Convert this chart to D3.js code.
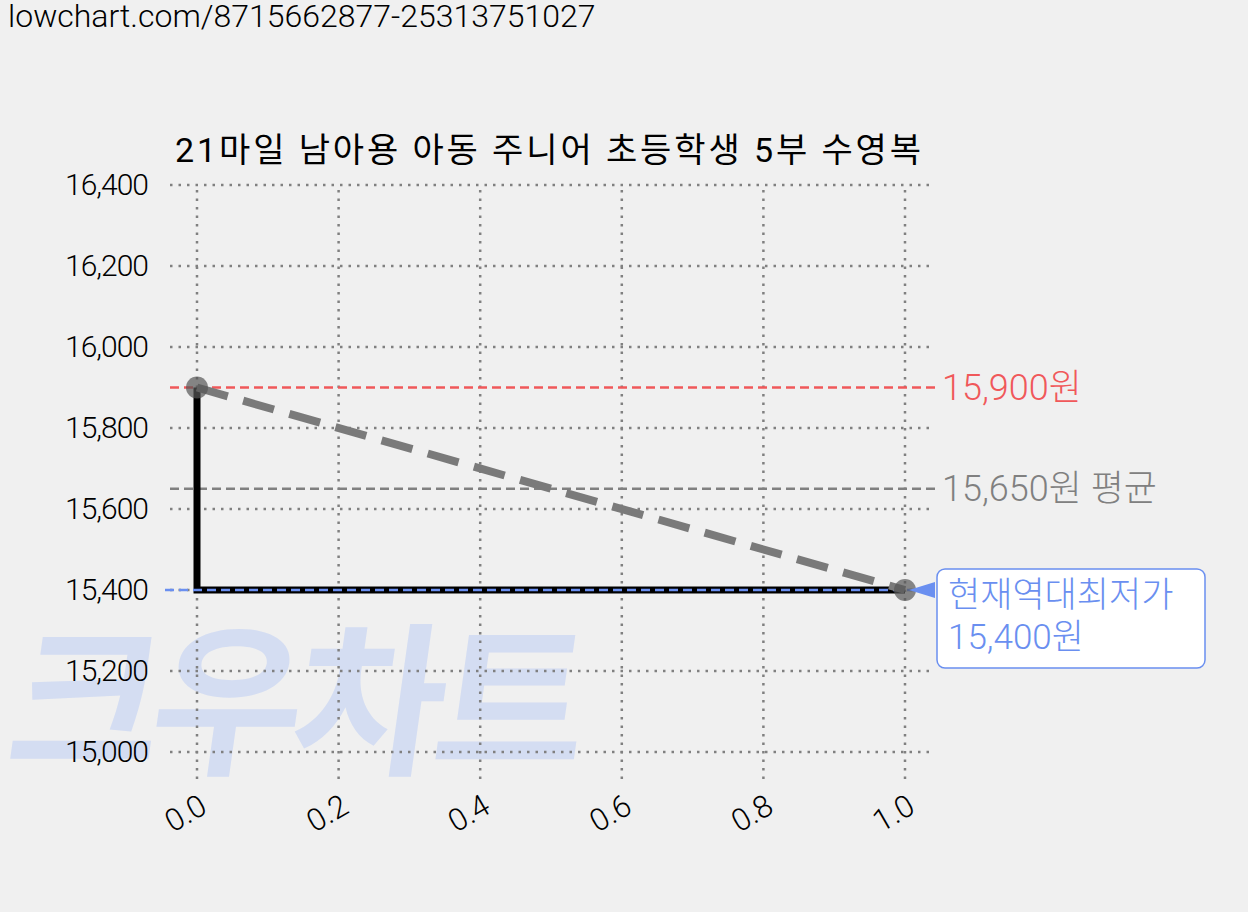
<!DOCTYPE html><html><head><meta charset="utf-8"><script src="https://cdn.jsdelivr.net/npm/d3@7"></script>
<style>body{margin:0;background:#f0f0f0;font-family:Roboto,"Noto Sans CJK KR",sans-serif}</style></head><body><svg id="c" width="1248" height="912"></svg>
<script>
const xVals=[0,1];
const prices=[15900,15400];
const yTicks=[15000,15200,15400,15600,15800,16000,16200,16400];
const xTicks=[0,0.2,0.4,0.6,0.8,1.0];
const maxPrice=15900, avgPrice=15650, minPrice=15400;
const title="21마일 남아용 아동 주니어 초등학생 5부 수영복";
const svg=d3.select("#c");
const x=d3.scaleLinear().domain([0,1]).range([197,905]);
const y=d3.scaleLinear().domain([15000,16400]).range([752,185]);
svg.append("text").attr("x",8).attr("y",27).attr("font-size",32).attr("font-weight",300).text("lowchart.com/8715662877-25313751027");
svg.append("text").attr("x",0).attr("y",762).attr("font-size",165).attr("font-weight",700).attr("fill","#d4ddf2")
 .attr("transform","translate(110,0) skewX(-8)").attr("font-family","Noto Sans CJK KR").attr("letter-spacing",-10).text("크우차트");
const g=svg.append("g");
xTicks.forEach(t=>g.append("line").attr("x1",x(t)).attr("x2",x(t)).attr("y1",190).attr("y2",785).attr("stroke","#808080").attr("stroke-width",2.5).attr("stroke-dasharray","2.5,6"));
yTicks.forEach(t=>g.append("line").attr("x1",170).attr("x2",935).attr("y1",y(t)).attr("y2",y(t)).attr("stroke","#808080").attr("stroke-width",2.5).attr("stroke-dasharray","2.5,6"));
yTicks.forEach(t=>svg.append("text").attr("x",148).attr("y",y(t)+10).attr("text-anchor","end").attr("font-size",30).attr("font-weight",300).attr("letter-spacing",-1).text(d3.format(",")(t)));
xTicks.forEach(t=>svg.append("text").attr("transform",`translate(${x(t)+12},${812}) rotate(-30)`).attr("text-anchor","end").attr("font-size",31).attr("font-weight",300).text(t.toFixed(1)));
svg.append("text").attr("x",548).attr("y",162).attr("text-anchor","middle").attr("font-size",34).attr("textLength",746).text(title);
const hl=(v,c,x0)=>svg.append("line").attr("x1",x0).attr("x2",935).attr("y1",y(v)).attr("y2",y(v)).attr("stroke",c).attr("stroke-width",2.5).attr("stroke-dasharray","9,5");
hl(maxPrice,"#f0585a",170);hl(avgPrice,"#808080",170);
svg.append("text").attr("x",942).attr("y",y(maxPrice)+12).attr("font-size",36).attr("font-weight",300).attr("fill","#f0585a").text("15,900원");
svg.append("text").attr("x",942).attr("y",y(avgPrice)+12).attr("font-size",36).attr("font-weight",300).attr("fill","#808080").text("15,650원 평균");
svg.append("path").attr("d",`M${x(0)},${y(prices[0])}V${y(prices[1])}H${x(1)}`).attr("fill","none").attr("stroke","#000").attr("stroke-width",7);
hl(minPrice,"#6a8ff0",165);
const line=d3.line().x((d,i)=>x(xVals[i])).y(d=>y(d));
svg.append("path").attr("d",line(prices)).attr("fill","none").attr("stroke","#7a7a7a").attr("stroke-width",8).attr("stroke-dasharray","32,16");
prices.forEach((p,i)=>svg.append("circle").attr("cx",x(xVals[i])).attr("cy",y(p)).attr("r",11).attr("fill","#555").attr("opacity",0.7));
svg.append("path").attr("d",`M${x(1)+4},${y(minPrice)}l26,-8v16z`).attr("fill","#6a8ff0");
svg.append("rect").attr("x",937).attr("y",569).attr("width",268).attr("height",99).attr("rx",8).attr("fill","#fff").attr("stroke","#6a8ff0").attr("stroke-width",1.5);
svg.append("text").attr("x",948).attr("y",607).attr("font-size",35).attr("font-weight",300).attr("fill","#6a8ff0").text("현재역대최저가");
svg.append("text").attr("x",948).attr("y",649).attr("font-size",35).attr("font-weight",300).attr("fill","#6a8ff0").text("15,400원");
</script></body></html>
